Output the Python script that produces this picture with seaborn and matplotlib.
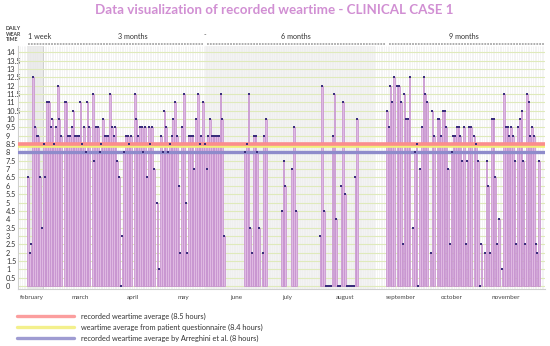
import numpy as np
import pandas as pd
import matplotlib
matplotlib.use("Agg")
import matplotlib.pyplot as plt
import seaborn as sns
from matplotlib.lines import Line2D

nan = np.nan

# daily wear time (hours), one value per day starting 1 February; nan = no record
hours = [
    6.5, 2, 2.5, 12.5, 9.5, 9, 9, 6.5, 3.5, 8.5,
    6.5, 11, 11, 9.5, 10, 8.5, 9.5, 12, 10, 9,
    nan, 11, 11, 9, 9, 9.5, 10.5, 9, 9, 9,
    11, 8.5, 9.5, 8, 11, 9.5, nan, 11.5, 7.5, 9.5,
    9.5, 8, 8.5, 10, 9, 9, 9, 11.5, 9.5, 9,
    9.5, 7.5, 6.5, 0, 3, 8, 9, 9, 8.5, 9,
    nan, 11.5, 10, 9, 9.5, 9.5, 8, 9.5, 6.5, 9.5,
    8.5, 9.5, 7, nan, 5, 1, 9, 8, 10.5, 9.5,
    8, 8.5, 9, 10, 11, 9, 6, 2, 9.5, 11.5,
    5, 2, 9, 9, 9, 7, 10, 11.5, 8.5, 9,
    11, 8.5, 7, 9, 10, 9, 9, 9, 9, 9,
    11.5, 10, 3, nan, nan, nan, nan, nan, nan, nan,
    nan, nan, nan, nan, 8, 8.5, 11.5, 3.5, 2, 9,
    9, 8, 3.5, nan, 2, 9, 10, nan, nan, nan,
    nan, nan, nan, nan, nan, 4.5, 7.5, 6, nan, nan,
    nan, 7, 9.5, 4.5, nan, nan, nan, nan, nan, nan,
    nan, nan, nan, nan, nan, nan, nan, 3, 12, 4.5,
    0, 0, 0, 0, 9, 11.5, 4, 0, 0, 6,
    11, 5.5, 0, 0, 0, 0, 0, 6.5, 10, nan,
    nan, nan, nan, nan, nan, nan, nan, nan, nan, nan,
    nan, nan, nan, nan, nan, 10.5, 9.5, 12, 11, 12.5,
    nan, 12, 12, 11, 2.5, 11.5, 10, 10, 12.5, nan,
    3.5, 8, 8.5, 0, 7, 9.5, 12.5, 11.5, 11, nan,
    2, 10.5, 9, nan, 10, 10, 9, 10.5, 10.5, 9.5,
    7, 2.5, 8, 9, 9, 9.5, 9.5, 9, 7.5, 9.5,
    2.5, 7.5, 9.5, 9.5, nan, 9, 8.5, 7.5, 0, 2.5,
    nan, 2, 7.5, 6, 2, 10, 10, 6.5, 2.5, 4,
    nan, 1, 11.5, 9.5, 9.5, 9, 9.5, 9, 7.5, 2.5,
    9.5, 10, 10.5, 7.5, 2.5, 11.5, 11, 9, 9.5, 9,
    2.5, 2, 7.5,
]

months = ["february", "march", "april", "may", "june", "july",
          "august", "september", "october", "november"]
month_days = [2, 30, 60, 89, 119, 148, 181, 213, 242, 273]

periods = ["1 week", "3 months", "6 months", "9 months"]
period_days = [0, 60, 153, 249]
period_edges = [8.5, 101, 205]

avg_recorded = 8.5
avg_questionnaire = 8.4
avg_arreghini = 8.0
avg_labels = [
    "recorded weartime average (8.5 hours)",
    "weartime average from patient questionnaire (8.4 hours)",
    "recorded weartime average by Arreghini et al. (8 hours)",
]
avg_colors = ["#fb8d8d", "#f2ee78", "#8e8bcb"]

df = pd.DataFrame({"day": np.arange(len(hours)), "hours": hours}).dropna()

sns.set_style("white")
plt.rcParams["font.family"] = ["Lato", "DejaVu Sans"]

fig = plt.figure(figsize=(5.5, 3.46), dpi=100)
ax = fig.add_axes([0.0327, 0.1647, 0.9583, 0.7023])
xmin, xmax = -5.7, 295.4
ymin, ymax = -0.18, 14.37

# background: shaded periods, daily stripes, half-hour grid
ax.axvspan(-0.5, period_edges[0], color="#e9e9e9", lw=0, zorder=0)
ax.axvspan(101, 198, color="#f3f3f3", lw=0, zorder=0)
ax.vlines(np.arange(-5, 296) + 0.5, ymin, ymax, color="#ededed", lw=0.4, zorder=0.5)
ax.axvline(period_edges[0], color="#c8c8c8", lw=0.6, zorder=0.6)
ax.hlines(np.arange(0, 14.01, 0.5), xmin, xmax, color="#dfeabb", lw=0.8, zorder=1)

sns.barplot(data=df, x="day", y="hours", native_scale=True, width=0.9,
            color="#dfb9e2", saturation=1, edgecolor="#c48ecd", linewidth=0.5,
            errorbar=None, ax=ax, zorder=2)

ax.axhline(avg_arreghini, color=avg_colors[2], lw=2.4, zorder=3)
ax.axhline(avg_questionnaire, color=avg_colors[1], lw=2.6, zorder=3)
ax.axhline(avg_recorded, color=avg_colors[0], lw=2.6, zorder=3.1)

sns.scatterplot(data=df, x="day", y="hours", marker="s", s=4, color="#3a2d7c",
                linewidth=0, ax=ax, zorder=4, legend=False)

ax.set_xlim(xmin, xmax)
ax.set_ylim(ymin, ymax)
ax.set_xlabel("")
ax.set_ylabel("")

yt = np.arange(0, 14.01, 0.5)
ax.set_yticks(yt)
ax.set_yticklabels([f"{v:g}" for v in yt], fontsize=5.3, color="#333333")
for lab in ax.get_yticklabels():
    lab.set_ha("left")
ax.tick_params(axis="y", length=0, pad=8.6)
ax.set_xticks(month_days)
ax.set_xticklabels(months, fontsize=4.6, color="#444444")
ax.tick_params(axis="x", length=0, pad=4)

for s in ["top", "right"]:
    ax.spines[s].set_visible(False)
for s in ["left", "bottom"]:
    ax.spines[s].set_color("#cfcfcf")
    ax.spines[s].set_linewidth(0.8)

# period header
tr = ax.get_xaxis_transform()
for name, d in zip(periods, period_days):
    ax.text(d, 1.041, name, transform=tr, fontsize=5.2, color="#333333",
            ha="left" if d == 0 else "center", va="center")
ax.text(period_edges[1], 1.045, "-", transform=tr, fontsize=5, color="#555555",
        ha="center", va="center")
seg = [(0, period_edges[1] - 1), (period_edges[1] + 1, period_edges[2] - 1),
       (period_edges[2] + 1, xmax)]
for a, b in seg:
    ax.plot([a, b], [1.008, 1.008], transform=tr, color="#a8a8a8", lw=1.3,
            ls=(0, (1, 0.6)), clip_on=False)

fig.text(274 / 550, 1 - 10 / 346, "Data visualization of recorded weartime - CLINICAL CASE 1",
         fontsize=9.6, fontweight="bold", color="#d18fd3", ha="center", va="center")
fig.text(6 / 550, 1 - 34 / 346, "DAILY\nWEAR\nTIME", fontsize=3.8, fontweight="bold",
         color="#444444", ha="left", va="center", linespacing=1.1)

# legend
for i, (lab, col) in enumerate(zip(avg_labels, avg_colors)):
    y = 1 - (316 + 11 * i) / 346
    fig.add_artist(Line2D([17 / 550, 74 / 550], [y, y], color=col, lw=2.4, alpha=0.85))
    fig.text(81 / 550, y, lab, fontsize=5.3, color="#333333", ha="left", va="center")

fig.savefig("out.png", dpi=100)
